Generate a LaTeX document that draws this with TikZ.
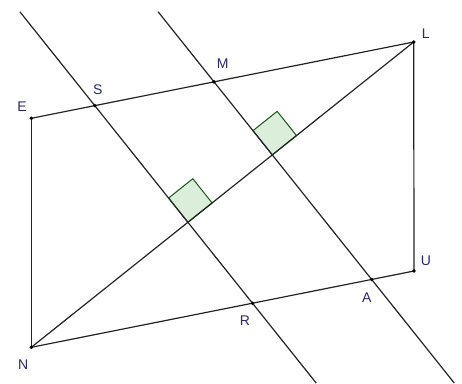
\documentclass[tikz,border=0pt]{standalone}
\usepackage{fontspec}
\setmainfont{Liberation Sans}
\usetikzlibrary{calc}
\definecolor{lblcol}{RGB}{40,40,110}
\definecolor{linecol}{RGB}{35,35,35}
\definecolor{sqfill}{RGB}{218,238,218}
\definecolor{sqdraw}{RGB}{20,90,20}
\begin{document}
\begin{tikzpicture}[x=1pt,y=-1pt,
  seg/.style={draw=linecol,line width=1.2pt},
  pt/.style={circle,fill=black,inner sep=0pt,minimum size=3.8pt},
  lbl/.style={text=lblcol,font=\fontsize{14}{16}\selectfont,inner sep=0pt},
  rtmark/.style={draw=sqdraw,fill=sqfill,line width=1pt}]
\useasboundingbox (0,0) rectangle (462,383);
% main points
\coordinate (L) at (413.7,42);
\coordinate (E) at (31.3,118.3);
\coordinate (N) at (31.3,347.3);
\coordinate (U) at (414,271);
\coordinate (S0) at (94.3,105);
\coordinate (M0) at (213.3,81);
% S and M on line E--L
\coordinate (S) at (intersection of E--L and S0--{$(S0)+(305,382)$});
\coordinate (M) at (intersection of E--L and M0--{$(M0)+(305,382)$});
% feet of perpendiculars on N--L
\coordinate (P1) at ($(N)!(S)!(L)$);
\coordinate (P2) at ($(N)!(M)!(L)$);
% R and A on N--U
\coordinate (R) at (intersection of S--P1 and N--U);
\coordinate (A) at (intersection of M--P2 and N--U);
% ends of the two perpendicular lines
\coordinate (T1) at (intersection of S--P1 and {0,11.7}--{100,11.7});
\coordinate (B1) at (intersection of S--P1 and {0,383}--{100,383});
\coordinate (T2) at (intersection of M--P2 and {0,11.7}--{100,11.7});
\coordinate (B2) at (intersection of M--P2 and {0,383}--{100,383});
% right angle squares
\coordinate (a1) at ($(P1)!31pt!(L)$);
\coordinate (b1) at ($(P1)!31pt!(S)$);
\coordinate (a2) at ($(P2)!31pt!(L)$);
\coordinate (b2) at ($(P2)!31pt!(M)$);
\draw[rtmark] (P1) -- (a1) -- ($(a1)+(b1)-(P1)$) -- (b1) -- cycle;
\draw[rtmark] (P2) -- (a2) -- ($(a2)+(b2)-(P2)$) -- (b2) -- cycle;
% segments
\draw[seg] (E) -- (L);
\draw[seg] (E) -- (N);
\draw[seg] (N) -- (U);
\draw[seg] (U) -- (L);
\draw[seg] (N) -- (L);
\draw[seg] (T1) -- (B1);
\draw[seg] (T2) -- (B2);
% point dots
\foreach \p in {L,E,N,U,S,M,R,A} \node[pt] (d\p) at (\p) {};
% labels
\node[lbl] (lE) at (22,106.7) {E};
\node[lbl] (lS) at (97.7,90) {S};
\node[lbl] (lM) at (222.7,64) {M};
\node[lbl] (lL) at (425.7,33.3) {L};
\node[lbl] (lU) at (426,260.7) {U};
\node[lbl] (lA) at (366.7,297.3) {A};
\node[lbl] (lR) at (245,320.7) {R};
\node[lbl] (lN) at (23.3,365) {N};
\end{tikzpicture}
\end{document}
